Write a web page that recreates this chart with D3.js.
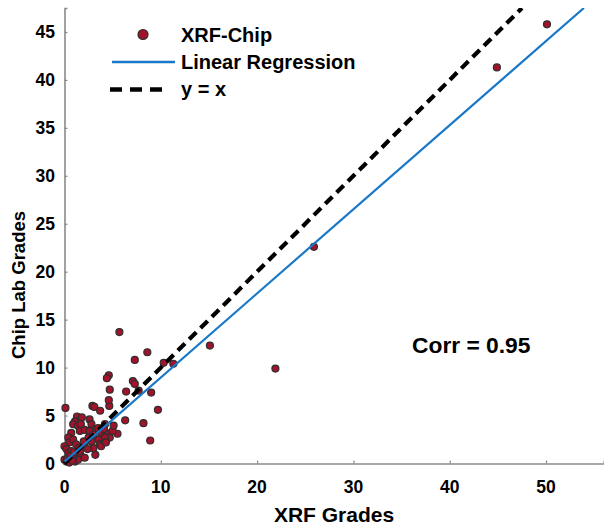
<!DOCTYPE html>
<html>
<head>
<meta charset="utf-8">
<script src="https://cdn.jsdelivr.net/npm/d3@7"></script>
<style>
html,body{margin:0;padding:0;background:#fff;}
svg text{font-family:"Liberation Sans",Arial,sans-serif;font-weight:bold;fill:#000;}
</style>
</head>
<body>
<svg id="chart" width="604" height="528"></svg>
<script>
// ---- data ----
const xrfGrades = [5.7,8.6,7.3,10.3,11.3,4.6,4.4,7.1,7.3,4.7,6.4,7.7,9.0,0.1,2.9,3.1,3.7,4.65,4.6,6.3,8.2,9.7,8.9,3.2,
  1.3,1.8,1.1,0.9,1.4,1.7,2.6,2.8,3.1,1.6,2.1,2.6,3.5,4.2,3.8,4.3,4.7,4.2,3.5,3.65,2.8,3.0,2.1,1.9,2.4,
  0.7,0.4,0.5,0.9,1.2,0.0,0.2,0.4,0.7,1.1,1.4,1.7,0.0,0.2,0.5,1.1,1.4,0.9,2.1,3.8,4.3,5.5,5.0,5.1,4.1,
  0.3,0.6,1.0,1.5,2.0,2.5,3.0,0.8,1.6,
  15.1,21.9,25.9,44.9,50.1];
const chipGrades = [13.7,11.6,10.8,10.5,10.4,9.2,8.9,8.6,8.3,7.7,7.5,7.6,7.4,5.8,6.0,5.9,5.5,6.0,6.6,4.5,4.2,5.6,2.4,0.9,
  4.9,4.8,4.4,4.1,3.9,4.1,4.6,4.1,3.5,3.4,3.5,3.4,3.7,4.1,3.2,3.2,2.7,2.7,2.5,2.0,2.3,1.6,2.2,1.8,1.5,
  3.2,2.7,2.2,2.5,2.0,1.8,1.5,1.1,1.3,0.9,1.1,0.8,0.4,0.2,0.1,0.2,0.4,0.5,0.6,1.8,2.2,3.1,3.4,3.95,3.6,
  0.5,0.8,1.2,1.6,2.3,2.7,3.0,0.3,1.3,
  12.3,9.9,22.6,41.3,45.8];
const regression = [0.2, 0.877]; // intercept, slope
const xTicks = [0,10,20,30,40,50];
const yTicks = [0,5,10,15,20,25,30,35,40,45];
const legendLabels = ["XRF-Chip","Linear Regression","y = x"];
const corrLabel = "Corr = 0.95";
const xTitle = "XRF Grades", yTitle = "Chip Lab Grades";

// ---- layout ----
const svg = d3.select("#chart");
const x = d3.scaleLinear().domain([0,56]).range([64.5,603.8]);
const y = d3.scaleLinear().domain([0,47.5]).range([463.5,8]);
const xMax = 56, yMax = 47.5;

const defs = svg.append("defs");
defs.append("clipPath").attr("id","clip").append("rect")
  .attr("x",x(0)-5).attr("y",y(yMax)).attr("width",x(xMax)-x(0)+5).attr("height",y(0)-y(yMax)+5);

// axes
const axisColor = "#8a8a8a";
const xAxis = svg.append("g").attr("transform",`translate(0,${y(0)})`)
  .call(d3.axisBottom(x).tickValues(xTicks).tickSize(-3).tickFormat(""));
const yAxis = svg.append("g").attr("transform",`translate(${x(0)},0)`)
  .call(d3.axisLeft(y).tickValues(yTicks).tickSize(-3).tickFormat(""));
[xAxis,yAxis].forEach(g=>{
  g.select(".domain").attr("stroke",axisColor).attr("stroke-width",1.6);
  g.selectAll(".tick line").attr("stroke",axisColor).attr("stroke-width",1.2);
});

svg.append("g").selectAll("text").data(xTicks).join("text")
  .attr("x",d=>x(d)).attr("y",493).attr("text-anchor","middle")
  .style("font-size","17.5px").text(d=>d);
svg.append("g").selectAll("text").data(yTicks).join("text")
  .attr("x",55).attr("y",d=>y(d)+6.3).attr("text-anchor","end")
  .style("font-size","17.5px").text(d=>d);

svg.append("text").attr("x",334).attr("y",522).attr("text-anchor","middle")
  .style("font-size","21px").text(xTitle);
svg.append("text").attr("transform","translate(25,285) rotate(-90)").attr("text-anchor","middle")
  .style("font-size","18.5px").text(yTitle);

// points
const pts = xrfGrades.map((d,i)=>({x:d,y:chipGrades[i]}));
const plot = svg.append("g").attr("clip-path","url(#clip)");
plot.selectAll("circle").data(pts).join("circle")
  .attr("cx",d=>x(d.x)).attr("cy",d=>y(d.y)).attr("r",3.5)
  .attr("fill","#a3122b").attr("stroke","#2e2e2e").attr("stroke-width",1.2);

// y = x
const line = d3.line().x(d=>x(d[0])).y(d=>y(d[1]));
plot.append("path").datum([[0,0],[yMax,yMax]]).attr("d",line)
  .attr("fill","none").attr("stroke","#000").attr("stroke-width",4.2)
  .attr("stroke-dasharray","10,6");
// regression
const xEnd = (yMax-regression[0])/regression[1];
plot.append("path").datum([[0,regression[0]],[xEnd,yMax]]).attr("d",line)
  .attr("fill","none").attr("stroke","#1a78c8").attr("stroke-width",2.2);

// legend
const lg = svg.append("g");
lg.append("circle").attr("cx",143).attr("cy",34.5).attr("r",5)
  .attr("fill","#a3122b").attr("stroke","#2e2e2e").attr("stroke-width",1.2);
lg.append("line").attr("x1",112).attr("x2",175).attr("y1",62).attr("y2",62)
  .attr("stroke","#1a78c8").attr("stroke-width",2.6);
lg.append("line").attr("x1",110).attr("x2",168).attr("y1",89.5).attr("y2",89.5)
  .attr("stroke","#000").attr("stroke-width",4.5).attr("stroke-dasharray","12,8");
lg.selectAll("text").data(legendLabels).join("text")
  .attr("x",181).attr("y",(d,i)=>41.5+i*27.2).style("font-size","20px").text(d=>d);

svg.append("text").attr("x",412).attr("y",353).style("font-size","22.8px").text(corrLabel);
</script>
</body>
</html>
